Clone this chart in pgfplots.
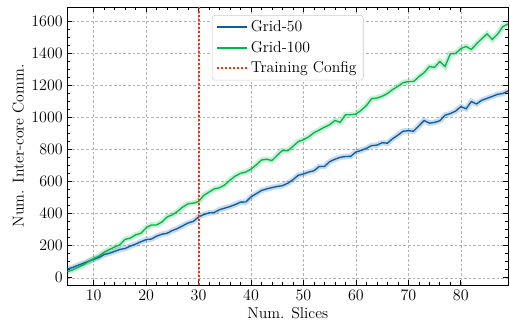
\documentclass[border=0pt]{standalone}
\usepackage{pgfplots}
\pgfplotsset{compat=1.18}
\definecolor{sblue}{HTML}{0C5DA5}
\definecolor{sgreen}{HTML}{00B945}
\definecolor{sred}{HTML}{FF2C00}
\pgfplotstableread{
x g50 g100
5 55 38
6 65 50
7 78 65
8 90 80
9 103 100
10 115 120
11 127 135
12 145 160
13 153 177
14 165 192
15 177 207
16 183 240
17 198 248
18 210 268
19 225 278
20 238 312
21 242 330
22 260 330
23 272 348
24 278 380
25 295 393
26 308 415
27 325 442
28 342 462
29 352 466
30 380 476
31 395 515
32 405 535
33 408 555
34 425 562
35 435 580
36 445 610
37 457 635
38 472 652
39 473 660
40 505 678
41 525 705
42 545 735
43 555 740
44 563 732
45 570 765
46 575 795
47 590 793
48 612 820
49 640 850
50 648 862
51 660 880
52 668 905
53 695 922
54 695 940
55 725 955
56 740 982
57 752 970
58 757 1017
59 758 1018
60 785 1022
61 795 1045
62 808 1075
63 825 1118
64 828 1122
65 843 1133
66 840 1150
67 868 1175
68 890 1195
69 915 1218
70 918 1225
71 915 1225
72 948 1255
73 982 1280
74 965 1318
75 970 1314
76 980 1350
77 1015 1318
78 1025 1398
79 1040 1400
80 1068 1430
81 1055 1444
82 1100 1425
83 1085 1460
84 1108 1492
85 1120 1522
86 1132 1488
87 1145 1520
88 1150 1568
89 1166 1584
}\datatable
\begin{document}
\begin{tikzpicture}
\begin{axis}[
  name=ax,
  scale only axis,
  width=330.4pt, height=208.5pt,
  xmin=5, xmax=89, ymin=-45, ymax=1690,
  xtick={10,20,...,80},
  ytick={0,200,...,1600},
  /pgf/number format/1000 sep={},
  minor x tick num=4,
  minor y tick num=3,
  tick align=inside,
  xtick pos=both, ytick pos=both,
  major tick length=3.5pt, minor tick length=2pt,
  tick style={black, line width=0.5pt},
  grid=major,
  major grid style={black!30, dash pattern=on 2pt off 1.5pt, line width=0.4pt},
  axis line style={line width=0.7pt},
  tick label style={font=\fontsize{11.8}{14}\selectfont},
  label style={font=\fontsize{11.8}{14}\selectfont},
  xlabel={Num. Slices},
  ylabel={Num. Inter-core Comm.},
  xlabel style={at={(axis description cs:0.5,-0.101)}, anchor=center},
  ylabel style={at={(axis description cs:-0.112,0.5)}, anchor=center},
  legend style={at={(0.5,0.971)}, anchor=north, draw=black!20, rounded corners=2pt, fill=white, font=\fontsize{11.8}{14}\selectfont, row sep=1.6pt, inner xsep=3pt, inner ysep=2pt},
  legend cell align=left,
]
\addplot[sblue, opacity=0.22, line width=4.2pt, forget plot] table[x=x, y=g50] {\datatable};
\addplot[sgreen, opacity=0.22, line width=4.2pt, forget plot] table[x=x, y=g100] {\datatable};
\addplot[color=sblue, line width=1pt, legend image code/.code={\draw[sblue, line width=1.2pt] (0pt,0pt) -- (22.5pt,0pt);}] table[x=x, y=g50] {\datatable};
\addlegendentry{Grid-50}
\addplot[color=sgreen, line width=1pt, legend image code/.code={\draw[draw=sgreen, line width=1.2pt] (0pt,0pt) -- (22.5pt,0pt);}] table[x=x, y=g100] {\datatable};
\addlegendentry{Grid-100}
\addplot[color=sred, line width=1.5pt, dash pattern=on 1.5pt off 1.5pt, legend image code/.code={\draw[sred, line width=1.5pt, dash pattern=on 1.5pt off 1.5pt] (0pt,0pt) -- (22.5pt,0pt);}] coordinates {(30,-45) (30,1690)};
\addlegendentry{Training Config}
\end{axis}
\pgfresetboundingbox
\path ([shift={(-50.6pt,-27.75pt)}]ax.south west) rectangle ([shift={(1.5pt,5.25pt)}]ax.north east);
\end{tikzpicture}
\end{document}
